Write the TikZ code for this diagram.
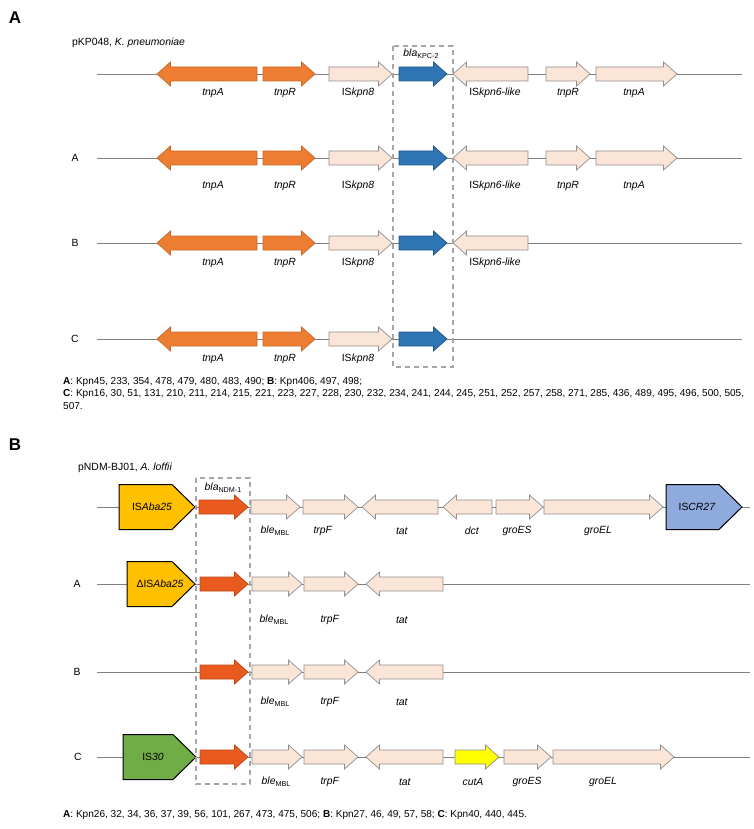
\documentclass[tikz,border=0pt]{standalone}
\usepackage{fontspec}
\setmainfont{Liberation Sans}
\definecolor{orangeA}{HTML}{ED7D31}
\definecolor{orangeEdge}{HTML}{C8692B}
\definecolor{pale}{HTML}{FBE5D6}
\definecolor{paleEdge}{HTML}{8F8F8F}
\definecolor{blueK}{HTML}{2E75B6}
\definecolor{redN}{HTML}{EA5A1E}
\definecolor{goldIS}{HTML}{FFC000}
\definecolor{greenIS}{HTML}{70AD47}
\definecolor{blueIS}{HTML}{8FAADC}
\definecolor{yelG}{HTML}{FFFF00}
\definecolor{linegray}{HTML}{7F7F7F}
\definecolor{dashgray}{HTML}{A6A6A6}
\newcommand\GR[4]{\draw[#4] ({#1},{#3-7}) -- ({#2-13.5},{#3-7}) -- ({#2-13.5},{#3-12}) -- ({#2},{#3}) -- ({#2-13.5},{#3+12}) -- ({#2-13.5},{#3+7}) -- ({#1},{#3+7}) -- cycle;}
\newcommand\GL[4]{\draw[#4] ({#1},{#3}) -- ({#1+13.5},{#3-12}) -- ({#1+13.5},{#3-7}) -- ({#2},{#3-7}) -- ({#2},{#3+7}) -- ({#1+13.5},{#3+7}) -- ({#1+13.5},{#3+12}) -- cycle;}
\newcommand\ISB[4]{\draw[#4] ({#1},{#3-22.5}) -- ({#2-23},{#3-22.5}) -- ({#2},{#3}) -- ({#2-23},{#3+22.5}) -- ({#1},{#3+22.5}) -- cycle;}
\newcommand\sub[1]{\raisebox{-0.35ex}{\fontsize{7.2}{8}\selectfont #1}}
\tikzset{
  orangeG/.style={fill=orangeA, draw=orangeEdge, line width=0.7pt},
  paleG/.style={fill=pale, draw=paleEdge, line width=0.7pt},
  blueG/.style={fill=blueK, draw=blueK!75!black, line width=0.7pt},
  redG/.style={fill=redN, draw=redN!80!black, line width=0.7pt},
  yelGene/.style={fill=yelG, draw=paleEdge, line width=0.7pt},
  goldBox/.style={fill=goldIS, draw=black, line width=1pt},
  greenBox/.style={fill=greenIS, draw=black, line width=1pt},
  blueBox/.style={fill=blueIS, draw=black, line width=1pt},
  rowline/.style={draw=linegray, line width=0.8pt},
  lab/.style={font=\fontsize{10.4}{12}\selectfont, inner sep=0pt},
  foot/.style={font=\fontsize{10.05}{12.5}\selectfont, inner sep=0pt, anchor=west},
  letter/.style={font=\fontsize{17}{20}\selectfont\bfseries, inner sep=0pt},
  dbox/.style={draw=dashgray, line width=1.3pt, dash pattern=on 5pt off 4pt}
}
\begin{document}
\begin{tikzpicture}[x=1pt,y=-1pt]
\useasboundingbox[fill=white] (0,0) rectangle (753,829);

% ================= Panel A =================
\node[letter] (LA) at (15,18) {A};
\node[lab, anchor=west] (tA) at (72,43) {pKP048, \textit{K. pneumoniae}};

% row lines
\foreach \y/\n in {74/r0,158/r1,243/r2,339/r3}{
  \coordinate (\n s) at (97,\y);
  \coordinate (\n e) at (742,\y);
  \draw[rowline] (\n s) -- (\n e);
}
\node[lab] (rAa) at (75,158) {A};
\node[lab] (rAb) at (75,243) {B};
\node[lab] (rAc) at (75,339) {C};

% genes common to all four rows
\foreach \y in {74,158,243,339}{
  \GL{157}{257}{\y}{orangeG}
  \GR{263}{315}{\y}{orangeG}
  \GR{329}{392}{\y}{paleG}
  \GR{399}{447}{\y}{blueG}
}
\foreach \y in {74,158,243}{
  \GL{453}{528}{\y}{paleG}
}
\foreach \y in {74,158}{
  \GR{546}{590}{\y}{paleG}
  \GR{596}{677}{\y}{paleG}
}

% labels panel A
\node[lab] (kpc) at (421,54) {\textit{bla}\sub{KPC-2}};
\foreach \y/\n in {93/a,186/b,263/c,359/d}{
  \node[lab] (tnpA\n) at (213,\y) {\textit{tnpA}};
  \node[lab] (tnpR\n) at (285,\y) {\textit{tnpR}};
  \node[lab] (kpn8\n) at (358,\y) {IS\textit{kpn8}};
}
\foreach \y/\n in {93/a,186/b,263/c}{
  \node[lab] (kpn6\n) at (495,\y) {IS\textit{kpn6-like}};
}
\foreach \y/\n in {93/a,186/b}{
  \node[lab] (tnpRr\n) at (568,\y) {\textit{tnpR}};
  \node[lab] (tnpAr\n) at (634,\y) {\textit{tnpA}};
}
\draw[dbox] (393,46) rectangle (453,367);

\node[foot] (fA1) at (63,382) {\textbf{A}: Kpn45, 233, 354, 478, 479, 480, 483, 490; \textbf{B}: Kpn406, 497, 498;};
\node[foot] (fA2) at (63,394) {\textbf{C}: Kpn16, 30, 51, 131, 210, 211, 214, 215, 221, 223, 227, 228, 230, 232, 234, 241, 244, 245, 251, 252, 257, 258, 271, 285, 436, 489, 495, 496, 500, 505,};
\node[foot] (fA3) at (63,406) {507.};

% ================= Panel B =================
\node[letter] (LB) at (15,445) {B};
\node[lab, anchor=west] (tB) at (78,468) {pNDM-BJ01, \textit{A. loffii}};

\foreach \y/\n in {507/q0,584/q1,672/q2,757/q3}{
  \coordinate (\n s) at (97,\y);
  \coordinate (\n e) at (750,\y);
  \draw[rowline] (\n s) -- (\n e);
}
\node[lab] (rBa) at (77,584) {A};
\node[lab] (rBb) at (77,672) {B};
\node[lab] (rBc) at (78,757) {C};

% row 1
\ISB{119}{195}{507}{goldBox}
\GR{199}{248}{507}{redG}
\GR{251}{300}{507}{paleG}
\GR{303}{358}{507}{paleG}
\GL{362}{438}{507}{paleG}
\GL{443}{492}{507}{paleG}
\GR{496}{543}{507}{paleG}
\GR{544}{663}{507}{paleG}
\ISB{666}{742}{507}{blueBox}
% rows A, B, C
\ISB{127}{195}{584}{goldBox}
\ISB{123}{196}{757}{greenBox}
\foreach \y in {584,672,757}{
  \GR{200}{248}{\y}{redG}
  \GR{252}{302}{\y}{paleG}
  \GR{304}{358}{\y}{paleG}
  \GL{366}{443}{\y}{paleG}
}
\GR{455}{499}{757}{yelGene}
\GR{504}{551}{757}{paleG}
\GR{553}{674}{757}{paleG}

% labels panel B
\node[lab] (ndm) at (223,488) {\textit{bla}\sub{NDM-1}};
\node[lab] (isaba) at (152,507) {IS\textit{Aba25}};
\node[lab] (iscr) at (697,507) {IS\textit{CR27}};
\node[lab] (disaba) at (160,584) {ΔIS\textit{Aba25}};
\node[lab] (is30) at (153,757) {IS\textit{30}};

\node[lab] (ble0) at (275,531) {\textit{ble}\sub{MBL}};
\node[lab] (trp0) at (323,531) {\textit{trpF}};
\node[lab] (tat0) at (402,531) {\textit{tat}};
\node[lab] (dct0) at (472,531) {\textit{dct}};
\node[lab] (gES0) at (517,531) {\textit{groES}};
\node[lab] (gEL0) at (598,531) {\textit{groEL}};

\node[lab] (ble1) at (274,620) {\textit{ble}\sub{MBL}};
\node[lab] (trp1) at (330,620) {\textit{trpF}};
\node[lab] (tat1) at (402,620) {\textit{tat}};

\node[lab] (ble2) at (275,702) {\textit{ble}\sub{MBL}};
\node[lab] (trp2) at (330,702) {\textit{trpF}};
\node[lab] (tat2) at (402,702) {\textit{tat}};

\node[lab] (ble3) at (276,782) {\textit{ble}\sub{MBL}};
\node[lab] (trp3) at (330,782) {\textit{trpF}};
\node[lab] (tat3) at (405,782) {\textit{tat}};
\node[lab] (cut3) at (473,782) {\textit{cutA}};
\node[lab] (gES3) at (527,782) {\textit{groES}};
\node[lab] (gEL3) at (603,782) {\textit{groEL}};

\draw[dbox] (196,478) rectangle (250,784);

\node[foot] (fB) at (63,815) {\textbf{A}: Kpn26, 32, 34, 36, 37, 39, 56, 101, 267, 473, 475, 506; \textbf{B}: Kpn27, 46, 49, 57, 58; \textbf{C}: Kpn40, 440, 445.};
\end{tikzpicture}
\end{document}
